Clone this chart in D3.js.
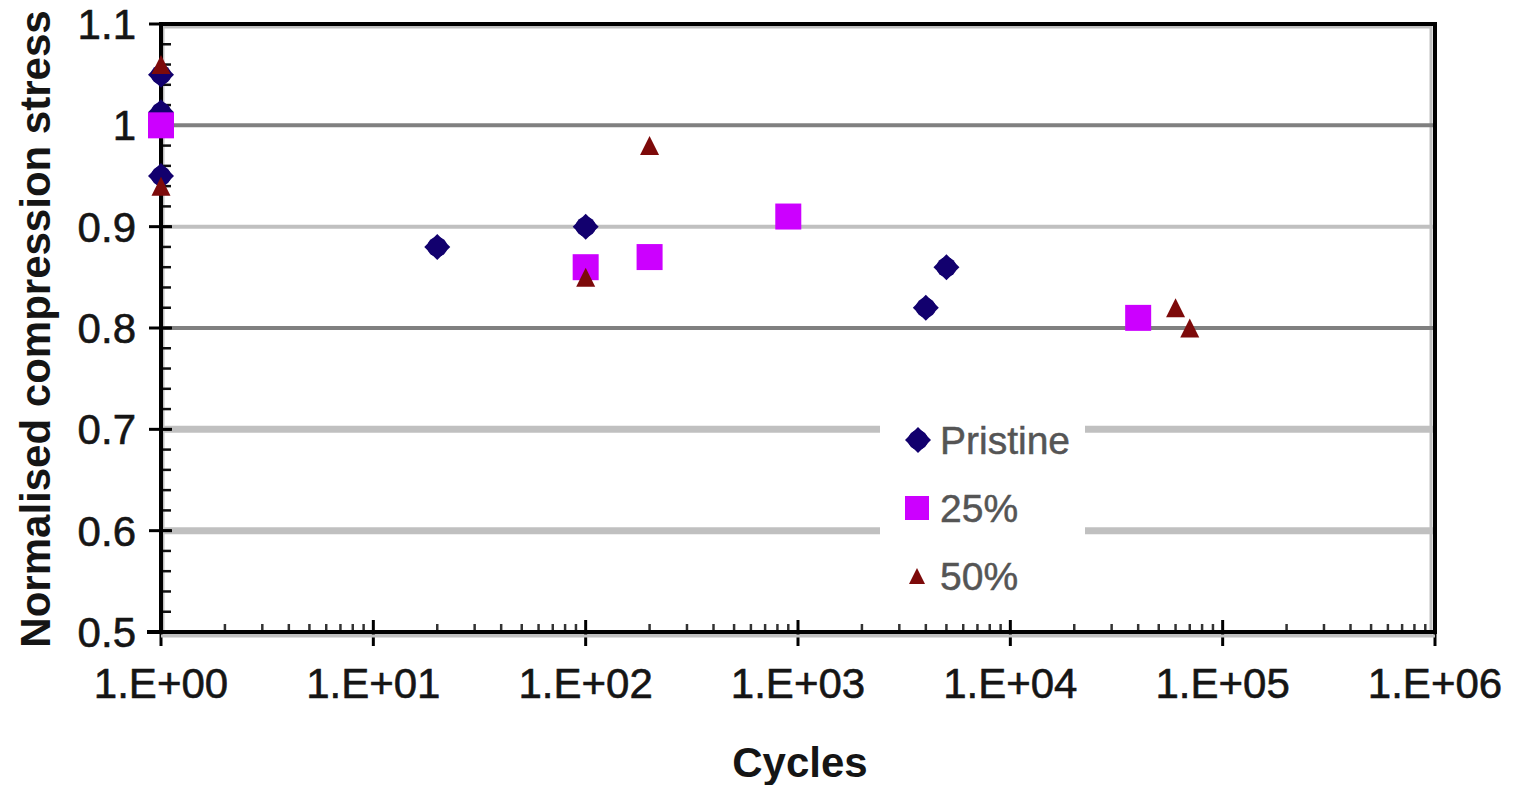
<!DOCTYPE html>
<html>
<head>
<meta charset="utf-8">
<script src="https://cdn.jsdelivr.net/npm/d3@7"></script>
<style>
  html, body { margin: 0; padding: 0; background: #fff; }
  svg { display: block; }
  text { font-family: "Liberation Sans", Arial, sans-serif; }
</style>
</head>
<body>
<svg id="chart" width="1519" height="785"></svg>
<script>
// ---- data ----
const pristineCycles = [1, 1, 1, 20, 100, 4000, 5000];
const pristineStress = [1.05, 1.013, 0.95, 0.88, 0.90, 0.82, 0.86];

const p25Cycles = [1, 100, 200, 900, 40000];
const p25Stress = [1.00, 0.86, 0.87, 0.91, 0.81];

const p50Cycles = [1, 1, 100, 200, 60000, 70000];
const p50Stress = [1.06, 0.94, 0.85, 0.98, 0.82, 0.80];

const seriesNames = ["Pristine", "25%", "50%"];
const yTickValues = [0.5, 0.6, 0.7, 0.8, 0.9, 1.0, 1.1];
const yTickLabels = ["0.5", "0.6", "0.7", "0.8", "0.9", "1", "1.1"];
const xTickValues = [1, 1e1, 1e2, 1e3, 1e4, 1e5, 1e6];
const xTickLabels = ["1.E+00", "1.E+01", "1.E+02", "1.E+03", "1.E+04", "1.E+05", "1.E+06"];
const xTitle = "Cycles";
const yTitle = "Normalised compression stress";

// ---- layout ----
const svg = d3.select("#chart");
const m = { left: 161, right: 1435, top: 24, bottom: 632 };
const x = d3.scaleLog().domain([1, 1e6]).range([m.left, m.right]);
const y = d3.scaleLinear().domain([0.5, 1.1]).range([m.bottom, m.top]);

// inner grey frame (shadow lines)
svg.append("rect")
  .attr("x", m.left + 2).attr("y", m.top + 3)
  .attr("width", m.right - m.left - 6).attr("height", m.bottom - m.top)
  .attr("fill", "none").attr("stroke", "#c0c0c0").attr("stroke-width", 3);

// grid lines
const gridStyle = { 1.0: ["#808080", 4], 0.9: ["#c0c0c0", 4], 0.8: ["#808080", 4], 0.7: ["#c0c0c0", 7], 0.6: ["#c0c0c0", 7] };
svg.append("g").selectAll("line")
  .data([0.6, 0.7, 0.8, 0.9, 1.0])
  .join("line")
  .attr("x1", m.left).attr("x2", m.right - 2)
  .attr("y1", d => y(d)).attr("y2", d => y(d))
  .attr("stroke", d => gridStyle[d][0])
  .attr("stroke-width", d => gridStyle[d][1]);

// black frame: top, right
svg.append("line").attr("x1", m.left - 2).attr("x2", m.right + 2).attr("y1", m.top).attr("y2", m.top)
  .attr("stroke", "#000").attr("stroke-width", 4);
svg.append("line").attr("x1", m.right).attr("x2", m.right).attr("y1", m.top).attr("y2", m.bottom + 2)
  .attr("stroke", "#000").attr("stroke-width", 4);

// y axis
const yMinor = d3.range(0.5, 1.1001, 0.02);
svg.append("g").selectAll("line")
  .data(yMinor)
  .join("line")
  .attr("x1", m.left).attr("x2", m.left + 10)
  .attr("y1", d => y(d)).attr("y2", d => y(d))
  .attr("stroke", "#111").attr("stroke-width", 2.5);
svg.append("g").selectAll("line")
  .data(yTickValues)
  .join("line")
  .attr("x1", m.left - 12).attr("x2", m.left + 11)
  .attr("y1", d => y(d)).attr("y2", d => y(d))
  .attr("stroke", "#000").attr("stroke-width", 3);
svg.append("g").selectAll("text")
  .data(yTickValues)
  .join("text")
  .attr("x", 136).attr("y", d => y(d)).attr("dy", "0.36em")
  .attr("text-anchor", "end")
  .attr("font-size", 42).attr("fill", "#151515")
  .attr("stroke", "#151515").attr("stroke-width", 0.6)
  .text((d, i) => yTickLabels[i]);

// x axis
const xMinor = [];
for (let e = 0; e < 6; e++) for (let k = 2; k <= 9; k++) xMinor.push(k * Math.pow(10, e));
svg.append("g").selectAll("line")
  .data(xMinor)
  .join("line")
  .attr("x1", d => x(d)).attr("x2", d => x(d))
  .attr("y1", m.bottom - 8).attr("y2", m.bottom)
  .attr("stroke", "#333").attr("stroke-width", 2.5);
svg.append("g").selectAll("line")
  .data(xTickValues)
  .join("line")
  .attr("x1", d => x(d)).attr("x2", d => x(d))
  .attr("y1", m.bottom - 12).attr("y2", m.bottom + 14)
  .attr("stroke", "#000").attr("stroke-width", 3);
svg.append("g").selectAll("text")
  .data(xTickValues)
  .join("text")
  .attr("x", d => x(d)).attr("y", 698)
  .attr("text-anchor", "middle")
  .attr("font-size", 42).attr("fill", "#151515")
  .attr("stroke", "#151515").attr("stroke-width", 0.6)
  .text((d, i) => xTickLabels[i]);

svg.append("line").attr("x1", m.left).attr("x2", m.left).attr("y1", m.top - 2).attr("y2", m.bottom + 2)
  .attr("stroke", "#000").attr("stroke-width", 4);
svg.append("line").attr("x1", m.left - 14).attr("x2", m.right + 2).attr("y1", m.bottom).attr("y2", m.bottom)
  .attr("stroke", "#000").attr("stroke-width", 4);
svg.append("line").attr("x1", m.left).attr("x2", m.right).attr("y1", m.bottom + 4).attr("y2", m.bottom + 4)
  .attr("stroke", "#c0c0c0").attr("stroke-width", 3);

// axis titles
svg.append("text")
  .attr("x", 800).attr("y", 777)
  .attr("text-anchor", "middle")
  .attr("font-size", 42).attr("font-weight", "bold").attr("fill", "#151515")
  .text(xTitle);
svg.append("text")
  .attr("transform", `translate(50, ${329}) rotate(-90)`)
  .attr("text-anchor", "middle")
  .attr("font-size", 42).attr("font-weight", "bold").attr("fill", "#151515")
  .text(yTitle);

// legend background
svg.append("rect")
  .attr("x", 880).attr("y", 405).attr("width", 205).attr("height", 200)
  .attr("fill", "#fff");

// markers
const diamondPath = "M0,-13L13,0L0,13L-13,0Z";
function drawDiamond(g, cx, cy) {
  const gg = g.append("g").attr("transform", `translate(${cx},${cy})`);
  gg.append("path").attr("d", diamondPath).attr("fill", "#12006e");
  gg.append("circle").attr("r", 10).attr("fill", "#12006e");
}
function drawSquare(g, cx, cy, s) {
  g.append("rect").attr("x", cx - s / 2).attr("y", cy - s / 2)
    .attr("width", s).attr("height", s).attr("fill", "#cc00ff");
}
function drawTriangle(g, cx, cy, s) {
  const h = s;
  g.append("path")
    .attr("d", `M0,${-h / 2}L${s / 2},${h / 2}L${-s / 2},${h / 2}Z`)
    .attr("transform", `translate(${cx},${cy})`)
    .attr("fill", "#7d0a0a");
}

const marks = svg.append("g");
pristineCycles.forEach((c, i) => drawDiamond(marks, x(c), y(pristineStress[i])));
p25Cycles.forEach((c, i) => drawSquare(marks, x(c), y(p25Stress[i]), 26));
p50Cycles.forEach((c, i) => drawTriangle(marks, x(c), y(p50Stress[i]), 19));

// legend
const legY = [440, 508, 576];
const leg = svg.append("g");
drawDiamond(leg, 918, legY[0]);
drawSquare(leg, 917, legY[1], 24);
drawTriangle(leg, 917, legY[2], 16);
seriesNames.forEach((n, i) => {
  leg.append("text")
    .attr("x", 940).attr("y", legY[i]).attr("dy", "0.36em")
    .attr("font-size", 39).attr("fill", "#555")
    .attr("stroke", "#555").attr("stroke-width", 0.5)
    .text(n);
});
</script>
</body>
</html>
